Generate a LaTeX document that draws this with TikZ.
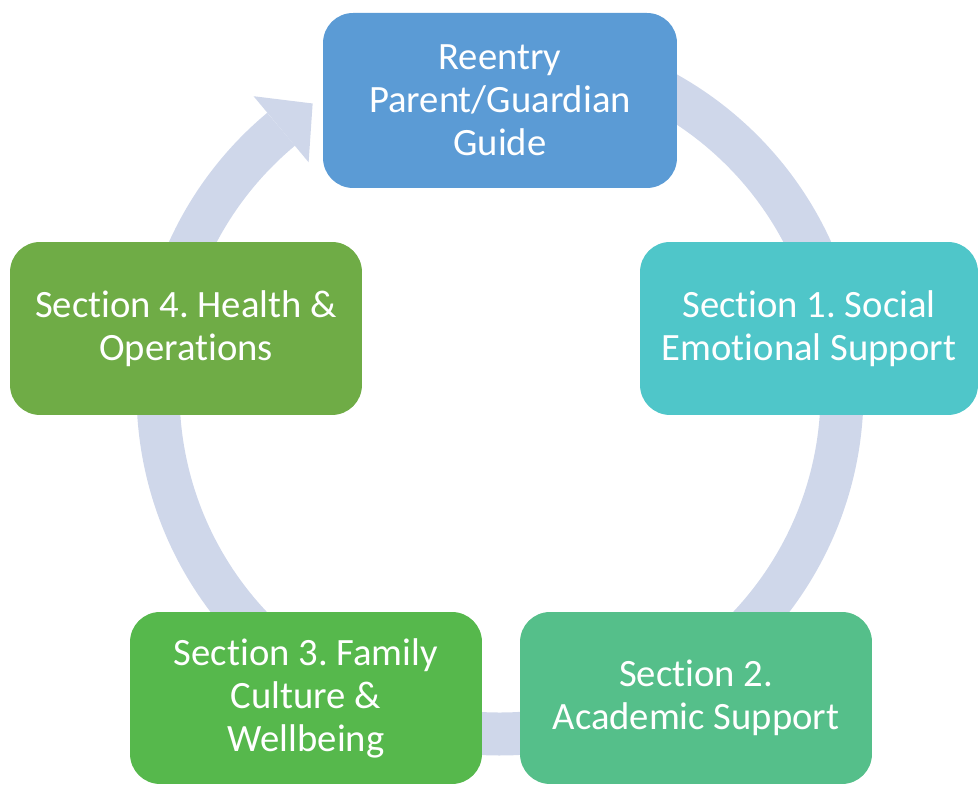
\documentclass[tikz,border=0pt]{standalone}
\usepackage{fontspec}
\setmainfont{Carlito}[Ligatures=NoCommon]
\frenchspacing
\definecolor{guideblue}{HTML}{5B9BD5}
\definecolor{secteal}{HTML}{4FC6C9}
\definecolor{secmint}{HTML}{55BF8A}
\definecolor{secgreen}{HTML}{56B84C}
\definecolor{secolive}{HTML}{6FAC46}
\definecolor{ringgray}{HTML}{CFD7EA}
\tikzset{
  sect/.style={rounded corners=0.6cm, text=white, align=center,
    minimum width=7.04cm, minimum height=3.46cm, inner sep=0pt,
    font=\fontsize{22}{24.5}\selectfont},
  ring/.style={draw=ringgray, line width=0.86cm}
}
\begin{document}
\begin{tikzpicture}[x=0.02cm,y=0.02cm]
\useasboundingbox (0,0) rectangle (980,786);
\coordinate (hub) at (500,394);
\draw[ring] (hub) ++(95:342) arc[start angle=95, end angle=-230.2, radius=342];
\begin{scope}[shift={(hub)}]
\fill[ringgray] (129.8:385) -- (123:344) -- (129.8:299) -- cycle;
\end{scope}
\node[sect, fill=guideblue, minimum width=7.08cm, minimum height=3.5cm] (guide) at (500,685.5) {Reentry\\Parent/Guardian\\Guide};
\node[sect, fill=secteal, minimum width=6.76cm] (social) at (809,457.5) {Section 1. Social\\Emotional Support};
\node[sect, fill=secmint, minimum height=3.44cm] (academic) at (696,88) {Section 2.\\Academic Support};
\node[sect, fill=secgreen, minimum height=3.44cm] (family) at (306,88) {Section 3. Family\\Culture \&\\Wellbeing};
\node[sect, fill=secolive] (health) at (186,457.5) {Section 4. Health \&\\Operations};
\end{tikzpicture}
\end{document}
